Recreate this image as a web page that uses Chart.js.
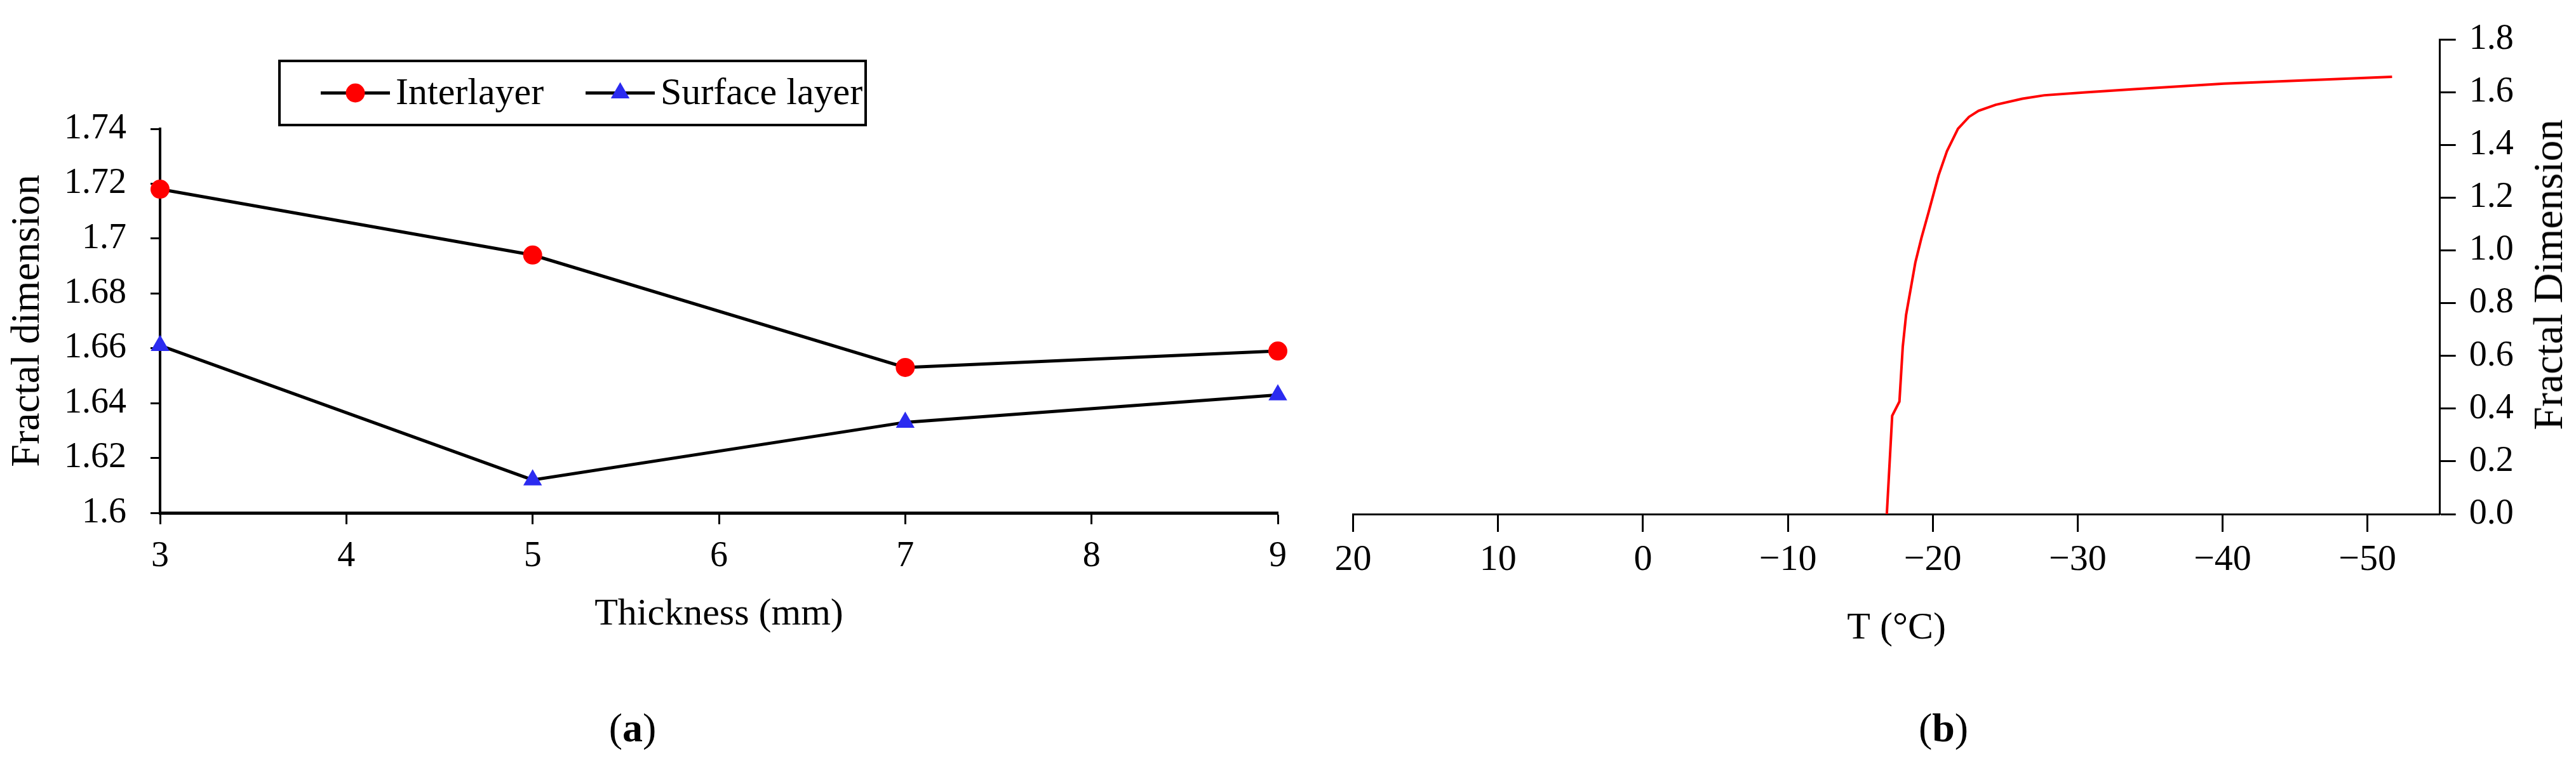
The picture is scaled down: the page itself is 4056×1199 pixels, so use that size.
<!DOCTYPE html>
<html>
<head>
<meta charset="utf-8">
<title>Fractal dimension</title>
<script src="https://cdn.jsdelivr.net/npm/chart.js@4.4.0/dist/chart.umd.min.js"></script>
<style>
    html, body { margin: 0; padding: 0; background: #fff; }
    body {
        width: 4056px; height: 1199px; position: relative; overflow: hidden;
        font-family: "Liberation Serif", "Times New Roman", serif; color: #000;
    }
    canvas { position: absolute; top: 0; }
    #chartA { left: 0; }
    #chartB { left: 2050px; }
    .caption { position: absolute; font-size: 64px; transform: translate(-50%, -50%); white-space: nowrap; }
    #yTitleB {
        position: absolute; left: 4012px; top: 433px; font-size: 66px; white-space: nowrap;
        transform: translate(-50%, -50%) rotate(-90deg);
    }
</style>
</head>
<body>
<canvas id="chartA" width="2100" height="1050"></canvas>
<canvas id="chartB" width="2006" height="1050"></canvas>
<div id="yTitleB">Fractal Dimension</div>
<div class="caption" style="left:996px; top:1147px;">(<b>a</b>)</div>
<div class="caption" style="left:3060px; top:1147px;">(<b>b</b>)</div>
<script>
const SERIF = '"Liberation Serif", "Times New Roman", serif';

// (a) fractal dimension vs thickness
const thickness = [3, 5, 7, 9];
const interlayer = [1.718, 1.694, 1.653, 1.659];
const surfaceLayer = [1.661, 1.612, 1.633, 1.643];
const thicknessTicks = [3, 4, 5, 6, 7, 8, 9];
const fdTicksA = [1.6, 1.62, 1.64, 1.66, 1.68, 1.7, 1.72, 1.74];

// (b) fractal dimension vs temperature
const temperature = [-16.83, -17.2, -17.7, -17.93, -18.16, -18.46, -18.8, -19.22, -19.72, -20.4, -20.98,
    -21.74, -22.5, -23.16, -24.34, -26.19, -27.7, -30.55, -33.9, -40.1, -45.5, -51.7];
const fractalDim = [0, 0.373, 0.427, 0.635, 0.756, 0.849, 0.955, 1.048, 1.147, 1.285, 1.377,
    1.462, 1.507, 1.530, 1.553, 1.576, 1.589, 1.600, 1.612, 1.633, 1.645, 1.659];
const tempTicks = [20, 10, 0, -10, -20, -30, -40, -50];
const fdTicksB = [0, 0.2, 0.4, 0.6, 0.8, 1.0, 1.2, 1.4, 1.6, 1.8];

// Lock axis boxes so the plot areas land where the figure has them
function pinWidth(w) {
    return scale => { scale.width = w; scale.paddingTop = 0; scale.paddingBottom = 0; };
}
function pinHeight(h) {
    return scale => { scale.height = h; scale.paddingLeft = 0; scale.paddingRight = 0; };
}
function useTicks(values) {
    return scale => { scale.ticks = values.map(v => ({ value: v })); };
}
const minus = v => (v < 0 ? '\u2212' + Math.abs(v) : String(v));

// Boxed legend, drawn from the dataset styles
const boxLegend = {
    id: 'boxLegend',
    afterDraw(chart, args, opts) {
        if (!opts.items) return;
        const ctx = chart.ctx;
        ctx.save();
        ctx.strokeStyle = '#000';
        ctx.lineWidth = 4;
        ctx.strokeRect(opts.x, opts.y, opts.w, opts.h);
        const cy = opts.y + opts.h / 2;
        chart.data.datasets.forEach((ds, i) => {
            const x0 = opts.items[i];
            const mx = x0 + opts.lineLen / 2;
            ctx.beginPath();
            ctx.moveTo(x0, cy);
            ctx.lineTo(x0 + opts.lineLen, cy);
            ctx.lineWidth = ds.borderWidth;
            ctx.strokeStyle = ds.borderColor;
            ctx.stroke();
            ctx.fillStyle = ds.pointBackgroundColor;
            ctx.beginPath();
            const r = ds.pointRadius;
            if (ds.pointStyle === 'triangle') {
                for (let k = 0; k < 3; k++) {
                    const a = k * 2 * Math.PI / 3;
                    ctx.lineTo(mx + Math.sin(a) * r, cy - Math.cos(a) * r);
                }
                ctx.closePath();
            } else {
                ctx.arc(mx, cy, r, 0, Math.PI * 2);
            }
            ctx.fill();
            ctx.fillStyle = '#000';
            ctx.font = '60px ' + SERIF;
            ctx.textBaseline = 'middle';
            ctx.textAlign = 'left';
            ctx.fillText(ds.label, x0 + opts.lineLen + 9, cy + 2);
        });
        ctx.restore();
    }
};

new Chart(document.getElementById('chartA'), {
    type: 'scatter',
    data: {
        datasets: [
            {
                label: 'Interlayer',
                data: thickness.map((x, i) => ({ x, y: interlayer[i] })),
                showLine: true, borderColor: '#000', borderWidth: 5,
                pointStyle: 'circle', pointRadius: 15, pointBorderWidth: 0,
                pointBackgroundColor: '#ff0000', clip: false
            },
            {
                label: 'Surface layer',
                data: thickness.map((x, i) => ({ x, y: surfaceLayer[i] })),
                showLine: true, borderColor: '#000', borderWidth: 5,
                pointStyle: 'triangle', pointRadius: 17, pointBorderWidth: 0,
                pointBackgroundColor: '#2b2bf0', clip: false
            }
        ]
    },
    options: {
        responsive: false, animation: false, devicePixelRatio: 1,
        layout: { padding: { left: 0, top: 203, right: 88, bottom: 0 } },
        plugins: {
            legend: { display: false },
            tooltip: { enabled: false },
            boxLegend: { x: 440, y: 96, w: 923, h: 101, items: [505, 922], lineLen: 109 }
        },
        scales: {
            x: {
                type: 'linear', min: 3, max: 9,
                afterBuildTicks: useTicks(thicknessTicks),
                afterFit: pinHeight(242),
                grid: { drawOnChartArea: false, drawTicks: true, tickLength: 18, tickWidth: 3, tickColor: '#000' },
                border: { display: true, color: '#000', width: 5 },
                ticks: { color: '#000', font: { family: SERIF, size: 56 }, padding: 18, maxRotation: 0 },
                title: { display: true, text: 'Thickness (mm)', color: '#000',
                    font: { family: SERIF, size: 60 }, padding: { top: 0, bottom: 46 } }
            },
            y: {
                min: 1.6, max: 1.74,
                afterBuildTicks: useTicks(fdTicksA),
                afterFit: pinWidth(252),
                grid: { drawOnChartArea: false, drawTicks: true, tickLength: 15, tickWidth: 3, tickColor: '#000' },
                border: { display: true, color: '#000', width: 4 },
                ticks: { color: '#000', font: { family: SERIF, size: 56 }, padding: 38,
                    callback: v => String(+v.toFixed(2)) },
                title: { display: true, text: 'Fractal dimension', color: '#000',
                    font: { family: SERIF, size: 64 }, padding: { top: 6, bottom: 0 } }
            }
        }
    },
    plugins: [boxLegend]
});

new Chart(document.getElementById('chartB'), {
    type: 'scatter',
    data: {
        datasets: [{
            label: 'Fractal Dimension',
            data: temperature.map((x, i) => ({ x, y: fractalDim[i] })),
            showLine: true, borderColor: '#ff0000', borderWidth: 4,
            pointRadius: 0, clip: false
        }]
    },
    options: {
        responsive: false, animation: false, devicePixelRatio: 1,
        layout: { padding: { left: 80.6, top: 62.5, right: 0, bottom: 0 } },
        plugins: { legend: { display: false }, tooltip: { enabled: false } },
        scales: {
            x: {
                type: 'linear', reverse: true, min: -55, max: 20,
                afterBuildTicks: useTicks(tempTicks),
                afterFit: pinHeight(240),
                grid: { drawOnChartArea: false, drawTicks: true, tickLength: 28, tickWidth: 3, tickColor: '#000' },
                border: { display: true, color: '#000', width: 3 },
                ticks: { color: '#000', font: { family: SERIF, size: 58 }, padding: 10, maxRotation: 0,
                    callback: v => minus(v) },
                title: { display: true, text: 'T (°C)', color: '#000',
                    font: { family: SERIF, size: 60 }, padding: { top: 0, bottom: 24 } }
            },
            y: {
                position: 'right', min: 0, max: 1.8,
                afterBuildTicks: useTicks(fdTicksB),
                afterFit: pinWidth(214.3),
                grid: { drawOnChartArea: false, drawTicks: true, tickLength: 25, tickWidth: 3, tickColor: '#000' },
                border: { display: true, color: '#000', width: 3 },
                ticks: { color: '#000', font: { family: SERIF, size: 56 }, padding: 21,
                    callback: v => v.toFixed(1) },
                title: { display: false }
            }
        }
    }
});
</script>
</body>
</html>
